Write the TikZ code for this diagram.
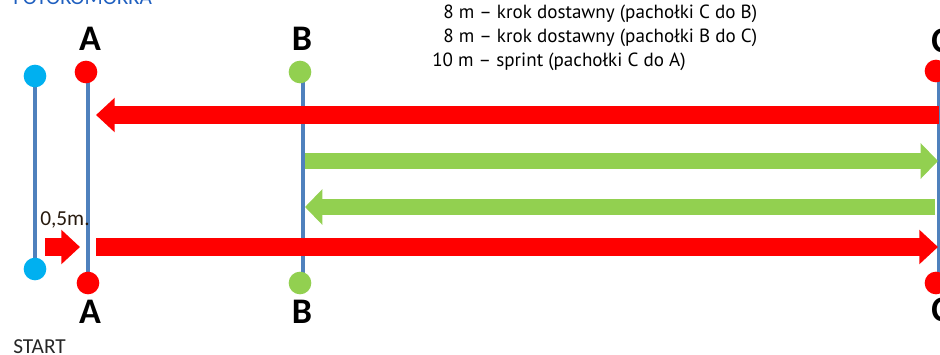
\documentclass[tikz,border=0pt]{standalone}
\usepackage{fontspec}
\setmainfont{Carlito}
\newfontfamily\descfont{PT Sans}
\usetikzlibrary{arrows.meta}
\definecolor{poleblue}{HTML}{4F81BD}
\definecolor{startblue}{HTML}{00B0F0}
\definecolor{conered}{HTML}{FF0000}
\definecolor{conegreen}{HTML}{92D050}
\definecolor{titleblue}{HTML}{1F5FBF}

\begin{document}
\begin{tikzpicture}[x=0.75pt, y=-0.75pt,
  pole/.style={poleblue, line width=2.3pt},
  dot/.style={circle, inner sep=0pt, minimum size=17pt},
  letter/.style={font=\fontsize{27}{27}\selectfont\bfseries},
  runred/.style={conered, line width=13pt, -{Triangle[length=14pt,width=25pt]}},
  rungreen/.style={conegreen, line width=12pt, -{Triangle[length=13pt,width=26pt]}},
  desc/.style={anchor=base west, inner sep=0pt, font=\descfont\fontsize{14.3}{14.3}\selectfont}]
\useasboundingbox (0,0) rectangle (940,354);
\clip (0,0) rectangle (940,354);

% cone positions
\coordinate (S1) at (35,76);
\coordinate (S2) at (35,269);
\coordinate (A1) at (88,72);
\coordinate (A2) at (88,283);
\coordinate (B1) at (303,72);
\coordinate (B2) at (303,283);
\coordinate (C1) at (939,72);
\coordinate (C2) at (939,283);

% poles
\draw[pole] (S1) -- (S2);
\draw[pole] (A1) -- (A2);
\draw[pole] (B1) -- (B2);
\draw[pole] (C1) -- (C2);

% cones
\node[dot, fill=startblue] (s1) at (S1) {};
\node[dot, fill=startblue] (s2) at (S2) {};
\node[dot, fill=conered] (a1) at (86,72) {};
\node[dot, fill=conered] (a2) at (88,283) {};
\node[dot, fill=conegreen] (b1) at (300,72) {};
\node[dot, fill=conegreen] (b2) at (300,283) {};
\node[dot, fill=conered] (c1) at (936,71) {};
\node[dot, fill=conered] (c2) at (936,283) {};

% labels
\node[letter] (la1) at (90,39) {A};
\node[letter] (la2) at (90,312) {A};
\node[letter] (lb1) at (302,39) {B};
\node[letter] (lb2) at (302,312) {B};
\node[letter] (lc1) at (941,41) {C};
\node[letter] (lc2) at (941,310) {C};

\node[anchor=base west, inner sep=0pt, text=titleblue, font=\fontsize{16}{16}\selectfont] (title) at (13,4) {FOTOKOMÓRKA};
\node[anchor=base west, inner sep=0pt, text=black!85, font=\fontsize{16}{16}\selectfont] (start) at (13,353) {START};
\node[anchor=base west, inner sep=0pt, text=black!80!brown, font=\fontsize{16}{16}\selectfont] (half) at (40,225) {0,5m.};

\node[desc] (line1) at (443,18) {8 m – krok dostawny (pachołki C do B)};
\node[desc] (line2) at (443,42) {8 m – krok dostawny (pachołki B do C)};
\node[desc] (line3) at (432,66) {10 m – sprint (pachołki C do A)};

% runs
\coordinate (r1s) at (939,115);
\coordinate (r1e) at (96,115);
\coordinate (g1s) at (305,161);
\coordinate (g1e) at (938,161);
\coordinate (g2s) at (935,207);
\coordinate (g2e) at (305,207);
\coordinate (r2s) at (96,247);
\coordinate (r2e) at (938,247);
\coordinate (h1s) at (45,247);
\coordinate (h1e) at (80,247);

\draw[runred] (r1s) -- (r1e);
\draw[rungreen] (g1s) -- (g1e);
\draw[rungreen] (g2s) -- (g2e);
\draw[runred] (r2s) -- (r2e);
\draw[runred] (h1s) -- (h1e);
\end{tikzpicture}
\end{document}
